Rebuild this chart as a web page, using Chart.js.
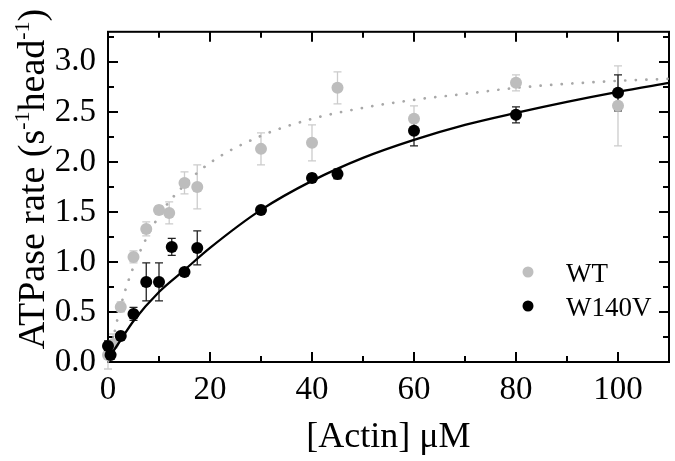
<!DOCTYPE html>
<html>
<head>
<meta charset="utf-8">
<script src="https://cdn.jsdelivr.net/npm/chart.js@4.4.1/dist/chart.umd.min.js"></script>
<style>
  html, body { margin: 0; padding: 0; background: #fff; }
  #wrap { width: 675px; height: 461px; }
</style>
</head>
<body>
<div id="wrap"><canvas id="myChart" width="675" height="461"></canvas></div>
<script>
var actinWT = [0, 1, 2.5, 5, 7.5, 10, 12, 15, 17.5, 30, 40, 45, 60, 80, 100];
var rateWT = [0.07, 0.18, 0.55, 1.05, 1.33, 1.52, 1.49, 1.79, 1.75, 2.13, 2.19, 2.74, 2.43, 2.79, 2.56];
var errWT = [0.14, 0.1, 0.05, 0.06, 0.07, 0.04, 0.11, 0.11, 0.22, 0.16, 0.18, 0.16, 0.13, 0.08, 0.40];

var actinW140V = [0, 0.5, 2.5, 5, 7.5, 10, 12.5, 15, 17.5, 30, 40, 45, 60, 80, 100];
var rateW140V = [0.16, 0.07, 0.26, 0.48, 0.80, 0.80, 1.15, 0.90, 1.14, 1.52, 1.84, 1.88, 2.31, 2.47, 2.69];
var errW140V = [0.05, 0.04, 0.03, 0.065, 0.19, 0.19, 0.085, 0.03, 0.17, 0.03, 0.04, 0.05, 0.15, 0.08, 0.18];

// fitted curves
var fitX = [0, 2.5, 5, 10, 15, 20, 30, 40, 50, 60, 70, 80, 90, 100, 110];
var fitWT = [0, 0.56, 0.95, 1.46, 1.77, 1.99, 2.26, 2.43, 2.54, 2.62, 2.68, 2.74, 2.78, 2.81, 2.83];
var fitW140V = [0.03, 0.22, 0.41, 0.70, 0.92, 1.14, 1.52, 1.81, 2.04, 2.22, 2.37, 2.49, 2.60, 2.70, 2.79];

var xTicks = [0, 20, 40, 60, 80, 100];
var xMinor = [10, 30, 50, 70, 90];
var yTicks = [0, 0.5, 1, 1.5, 2, 2.5, 3];
var yMinor = [0.25, 0.75, 1.25, 1.75, 2.25, 2.75, 3.25];

var FONT = "'Liberation Serif', 'Times New Roman', serif";

function pts(xs, ys) {
    return xs.map(function (x, i) { return { x: x, y: ys[i] }; });
}

// frame with inward ticks on all four sides + error bars
var framePlugin = {
    id: 'frame',
    beforeDatasetsDraw: function (chart) {
        var ctx = chart.ctx, a = chart.chartArea;
        var xs = chart.scales.x, ys = chart.scales.y;
        ctx.save();
        ctx.strokeStyle = '#000';
        ctx.lineWidth = 2;
        ctx.strokeRect(a.left, a.top, a.right - a.left, a.bottom - a.top);
        function xt(v, len) {
            var p = Math.round(xs.getPixelForValue(v));
            ctx.beginPath();
            ctx.moveTo(p, a.bottom); ctx.lineTo(p, a.bottom - len);
            ctx.moveTo(p, a.top); ctx.lineTo(p, a.top + len);
            ctx.stroke();
        }
        function yt(v, len) {
            var p = Math.round(ys.getPixelForValue(v));
            ctx.beginPath();
            ctx.moveTo(a.left, p); ctx.lineTo(a.left + len, p);
            ctx.moveTo(a.right, p); ctx.lineTo(a.right - len, p);
            ctx.stroke();
        }
        xTicks.forEach(function (v) { xt(v, 10); });
        xMinor.forEach(function (v) { xt(v, 6); });
        yTicks.forEach(function (v) { yt(v, 10); });
        yMinor.forEach(function (v) { yt(v, 6); });

        // error bars
        function bars(xv, yv, ev, color) {
            ctx.strokeStyle = color;
            ctx.lineWidth = 1.3;
            for (var i = 0; i < xv.length; i++) {
                var px = xs.getPixelForValue(xv[i]);
                var top = ys.getPixelForValue(yv[i] + ev[i]);
                var bot = ys.getPixelForValue(yv[i] - ev[i]);
                ctx.beginPath();
                ctx.moveTo(px, top); ctx.lineTo(px, bot);
                ctx.moveTo(px - 4, top); ctx.lineTo(px + 4, top);
                ctx.moveTo(px - 4, bot); ctx.lineTo(px + 4, bot);
                ctx.stroke();
            }
        }
        bars(actinWT, rateWT, errWT, '#cccccc');
        bars(actinW140V, rateW140V, errW140V, '#222222');
        ctx.restore();
    },
    afterDraw: function (chart) {
        var ctx = chart.ctx;
        ctx.save();
        // y axis title with superscripts
        ctx.translate(44, 179);
        ctx.rotate(-Math.PI / 2);
        ctx.fillStyle = '#000';
        ctx.textBaseline = 'alphabetic';
        var parts = [['ATPase rate (s', 0], ['-1', 1], ['head', 0], ['-1', 1], [')', 0]];
        var big = '38px ' + FONT, small = '22px ' + FONT;
        var total = 0;
        parts.forEach(function (p) {
            ctx.font = p[1] ? small : big;
            total += ctx.measureText(p[0]).width;
        });
        var x = -total / 2;
        parts.forEach(function (p) {
            ctx.font = p[1] ? small : big;
            ctx.fillText(p[0], x, p[1] ? -15 : 0);
            x += ctx.measureText(p[0]).width;
        });
        ctx.restore();

        // legend
        ctx.save();
        ctx.font = '27px ' + FONT;
        ctx.fillStyle = '#000';
        ctx.textBaseline = 'alphabetic';
        var items = [['WT', '#bfbfbf', 272], ['W140V', '#000000', 306]];
        items.forEach(function (it) {
            ctx.beginPath();
            ctx.fillStyle = it[1];
            ctx.arc(528, it[2], 5.5, 0, Math.PI * 2);
            ctx.fill();
            ctx.fillStyle = '#000';
            ctx.fillText(it[0], 566, it[2] + 9.5);
        });
        ctx.restore();
    }
};

const ctx = document.getElementById('myChart');
new Chart(ctx, {
    type: 'scatter',
    data: {
        datasets: [{
            label: 'WT fit',
            data: pts(fitX, fitWT),
            showLine: true,
            borderColor: '#a8a8a8',
            borderWidth: 2.7,
            borderDash: [0.1, 10.5],
            borderCapStyle: 'round',
            pointRadius: 0,
            cubicInterpolationMode: 'monotone',
            order: 4
        }, {
            label: 'WT',
            data: pts(actinWT, rateWT),
            backgroundColor: '#bdbdbd',
            borderWidth: 0,
            pointRadius: 6,
            clip: false,
            order: 3
        }, {
            label: 'W140V fit',
            data: pts(fitX, fitW140V),
            showLine: true,
            borderColor: '#000',
            borderWidth: 2.3,
            pointRadius: 0,
            cubicInterpolationMode: 'monotone',
            order: 2
        }, {
            label: 'W140V',
            data: pts(actinW140V, rateW140V),
            backgroundColor: '#000',
            borderWidth: 0,
            pointRadius: 6,
            clip: false,
            order: 1
        }]
    },
    options: {
        responsive: false,
        animation: false,
        layout: { padding: { top: 5, right: 5, left: 0, bottom: 0 } },
        plugins: {
            legend: { display: false },
            tooltip: { enabled: false }
        },
        scales: {
            x: {
                type: 'linear',
                min: 0,
                max: 110,
                afterBuildTicks: function (s) { s.ticks = xTicks.map(function (v) { return { value: v }; }); },
                afterFit: function (s) { s.height = 99; },
                grid: { display: false, drawTicks: false },
                border: { display: false },
                ticks: {
                    padding: 9,
                    color: '#000',
                    maxRotation: 0,
                    font: { family: FONT, size: 33 }
                },
                title: {
                    display: true,
                    text: '[Actin] μM',
                    color: '#000',
                    padding: { top: 0, bottom: 2 },
                    font: { family: FONT, size: 36 }
                }
            },
            y: {
                min: 0,
                max: 3.3,
                afterBuildTicks: function (s) { s.ticks = yTicks.map(function (v) { return { value: v }; }); },
                afterFit: function (s) { s.width = 108; },
                grid: { display: false, drawTicks: false },
                border: { display: false },
                ticks: {
                    padding: 12,
                    color: '#000',
                    font: { family: FONT, size: 33 },
                    callback: function (v) { return v.toFixed(1); }
                }
            }
        }
    },
    plugins: [framePlugin]
});
</script>
</body>
</html>
